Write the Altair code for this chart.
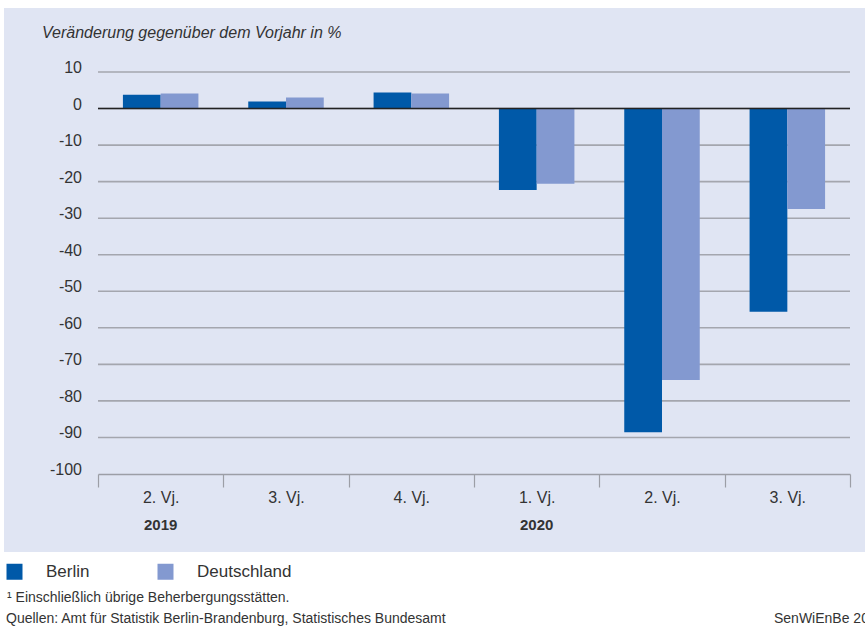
import altair as alt
import pandas as pd

# Quarterly change in overnight stays versus the same quarter of the previous year (%)
quarters = ["2. Vj. 2019", "3. Vj. 2019", "4. Vj. 2019", "1. Vj. 2020", "2. Vj. 2020", "3. Vj. 2020"]
quarter_labels = ["2. Vj.", "3. Vj.", "4. Vj.", "1. Vj.", "2. Vj.", "3. Vj."]
berlin = [3.8, 1.9, 4.4, -22.3, -88.6, -55.6]
deutschland = [4.1, 3.0, 4.1, -20.6, -74.3, -27.5]
series = ["Berlin", "Deutschland"]
series_colors = ["#0059a8", "#8399d0"]
year_labels = [("2. Vj. 2019", "2019"), ("1. Vj. 2020", "2020")]
y_ticks = list(range(-100, 11, 10))

FONT = "Liberation Sans"
TEXT = "#333333"
PANEL = "#e0e5f3"
GRID = "#a4a6ae"
W, H = 752, 402

rows = []
for q, b, d in zip(quarters, berlin, deutschland):
    rows.append({"quarter": q, "series": "Berlin", "value": b})
    rows.append({"quarter": q, "series": "Deutschland", "value": d})
df = pd.DataFrame(rows)

label_expr = " : ".join(
    [f"datum.value === '{q}' ? '{l}'" for q, l in zip(quarters, quarter_labels)]
) + " : datum.value"

# full-width bands so the axis ticks sit on the band boundaries
x_scale = alt.Scale(domain=quarters, paddingInner=0, paddingOuter=0)
offset_scale = alt.Scale(domain=series, paddingInner=0, paddingOuter=0.66)
y_scale = alt.Scale(domain=[-100, 10], nice=False)

ticks_df = pd.DataFrame(
    {"v": y_ticks, "label": [("-" + str(abs(v))) if v < 0 else str(v) for v in y_ticks]}
)

# light panel behind plot, axes and heading
panel = alt.Chart(pd.DataFrame({"a": [0]})).mark_rect(color=PANEL).encode(
    x=alt.value(-94), x2=alt.value(W + 15), y=alt.value(-64), y2=alt.value(480)
)

# horizontal grid lines (above the panel, below the bars)
grid = alt.Chart(ticks_df[ticks_df.v > -100]).mark_rule(
    color=GRID, strokeWidth=1.6
).encode(y=alt.Y("v:Q", scale=y_scale, axis=None))

# value labels of the vertical scale
y_labels = alt.Chart(ticks_df).mark_text(
    font=FONT, fontSize=16, color=TEXT, align="right", baseline="middle", dy=-4
).encode(x=alt.value(-16), y=alt.Y("v:Q", scale=y_scale, axis=None), text="label:N")

bars = alt.Chart(df).mark_bar().encode(
    x=alt.X(
        "quarter:N",
        scale=x_scale,
        sort=quarters,
        axis=alt.Axis(
            title=None,
            labelExpr=label_expr,
            labelAngle=0,
            labelFont=FONT,
            labelFontSize=16,
            labelColor=TEXT,
            labelPadding=2,
            tickSize=13,
            tickColor="#9c9ea6",
            tickWidth=1.2,
            tickBand="extent",
            domainColor="#9c9ea6",
            domainWidth=1.6,
            grid=False,
            zindex=1,
        ),
    ),
    xOffset=alt.XOffset("series:N", sort=series, scale=offset_scale),
    y=alt.Y("value:Q", scale=y_scale, axis=None),
    color=alt.Color(
        "series:N",
        sort=series,
        scale=alt.Scale(domain=series, range=series_colors),
        legend=alt.Legend(
            title=None,
            orient="none",
            direction="horizontal",
            legendX=-92,
            legendY=491,
            symbolType="square",
            symbolSize=256,
            symbolStrokeWidth=0,
            symbolOpacity=1,
            labelFont=FONT,
            labelFontSize=17,
            labelColor=TEXT,
            labelOffset=23,
            columnPadding=67,
            zindex=1,
        ),
    ),
)

zero = alt.Chart(pd.DataFrame({"v": [0]})).mark_rule(color="#222222", strokeWidth=1.6).encode(
    y=alt.Y("v:Q", scale=y_scale, axis=None)
)

years = alt.Chart(pd.DataFrame(year_labels, columns=["quarter", "year"])).mark_text(
    font=FONT, fontSize=15, fontWeight="bold", color=TEXT, baseline="middle"
).encode(
    x=alt.X("quarter:N", scale=x_scale, sort=quarters, bandPosition=0.5),
    y=alt.value(H + 51),
    text="year:N",
)

heading = alt.Chart(pd.DataFrame({"t": ["Veränderung gegenüber dem Vorjahr in %"]})).mark_text(
    font=FONT, fontSize=16, fontStyle="italic", color=TEXT, align="left", baseline="middle"
).encode(x=alt.value(-56), y=alt.value(-39), text="t:N")

notes = pd.DataFrame(
    {
        "text": [
            "¹  Einschließlich übrige Beherbergungsstätten.",
            "Quellen: Amt für Statistik Berlin-Brandenburg, Statistisches Bundesamt",
        ],
        "x": [-91, -92],
        "y": [526, 547],
    }
)
footnotes = alt.Chart(notes).mark_text(
    font=FONT, fontSize=14, color=TEXT, align="left", baseline="middle"
).encode(x=alt.X("x:Q", scale=None), y=alt.Y("y:Q", scale=None), text="text:N")

credit = alt.Chart(pd.DataFrame({"t": ["SenWiEnBe 2020"]})).mark_text(
    font=FONT, fontSize=14, color=TEXT, align="left", baseline="middle"
).encode(x=alt.value(676), y=alt.value(547), text="t:N")

chart = (
    alt.layer(panel, grid, bars, zero, y_labels, years, heading, footnotes, credit)
    .properties(
        width=W,
        height=H,
        padding={"left": 98, "top": 72, "right": 15, "bottom": 152},
        autosize=alt.AutoSizeParams(type="none"),
        background="white",
    )
    .configure_view(stroke=None)
)

chart.save("out.html", embed_options={"renderer": "svg", "actions": False})
